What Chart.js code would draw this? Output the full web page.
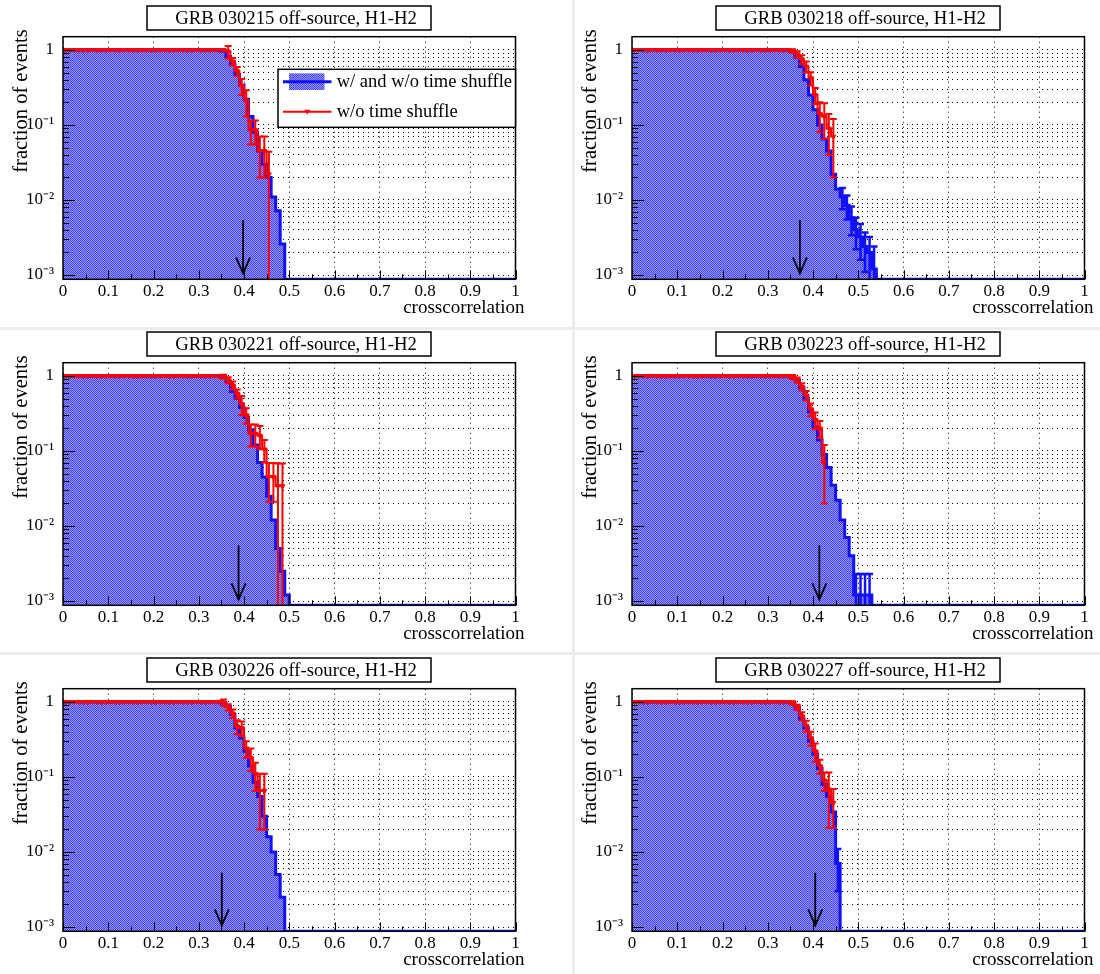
<!DOCTYPE html>
<html>
<head>
<meta charset="utf-8">
<title>GRB off-source crosscorrelation, H1-H2</title>
<script src="https://cdn.jsdelivr.net/npm/chart.js@4.4.1/dist/chart.umd.min.js"></script>
<style>
  html, body { margin: 0; padding: 0; background: #ffffff; overflow: hidden; }
  #sheet { position: relative; width: 1100px; height: 974px; background: #ffffff; }
  #sheet canvas { position: absolute; }
  .rule { position: absolute; background: #ececec; }
</style>
</head>
<body>
<div id="sheet">
  <div class="rule" style="left:0; top:327px; width:1100px; height:3px;"></div>
  <div class="rule" style="left:0; top:652px; width:1100px; height:3px;"></div>
  <div class="rule" style="left:572px; top:0; width:3px; height:974px;"></div>
</div>
<script>
// Histogram bins: 100 bins of width 0.01 on crosscorrelation [0, 1].
// Each array holds the cumulative fraction of events per bin, starting at bin [0, 0.01).
const BIN_WIDTH = 0.01;

const grbNames = ['030215', '030218', '030221', '030223', '030226', '030227'];

// Threshold markers (arrow position and vertical extent)
const arrowX   = [0.398, 0.371, 0.388, 0.414, 0.351, 0.405];
const arrowTop = [0.0054, 0.0054, 0.0055, 0.0055, 0.0053, 0.0053];
const arrowTip = [0.00105, 0.00105, 0.00105, 0.00105, 0.00105, 0.00105];

// ---- GRB 030215 ----
const allEvents030215 = [
  1, 1, 1, 1, 1, 1, 1, 1, 1, 1,
  1, 1, 1, 1, 1, 1, 1, 1, 1, 1,
  1, 1, 1, 1, 1, 1, 1, 1, 1, 1,
  1, 1, 1, 1, 1, 0.97, 0.82, 0.64, 0.47, 0.34,
  0.22, 0.13, 0.08, 0.045, 0.03, 0.02, 0.011, 0.0072, 0.0026, 0
];
const allEvents030215Err = [];
const noShuffle030215 = [
  1, 1, 1, 1, 1, 1, 1, 1, 1, 1,
  1, 1, 1, 1, 1, 1, 1, 1, 1, 1,
  1, 1, 1, 1, 1, 1, 1, 1, 1, 1,
  1, 1, 1, 1, 1, 1, 0.95, 0.7, 0.52, 0.33,
  0.21, 0.085, 0.085, 0.045, 0.045, 0.022
];
const noShuffle030215Err = [
  0, 0, 0, 0, 0, 0, 0, 0, 0, 0,
  0, 0, 0, 0, 0, 0, 0, 0, 0, 0,
  0, 0, 0, 0, 0, 0, 0, 0, 0, 0,
  0, 0, 0, 0, 0, 0, 0.18, 0.08, 0.07, 0.08,
  0.08, 0.03, 0.03, 0.025, 0.025, 0.022
];

// ---- GRB 030218 ----
const allEvents030218 = [
  1, 1, 1, 1, 1, 1, 1, 1, 1, 1,
  1, 1, 1, 1, 1, 1, 1, 1, 1, 1,
  1, 1, 1, 1, 1, 1, 1, 1, 1, 1,
  1, 1, 1, 1, 1, 0.95, 0.8, 0.6, 0.4, 0.25,
  0.16, 0.1, 0.065, 0.045, 0.022, 0.014, 0.011, 0.0085, 0.0058, 0.004,
  0.0032, 0.0024, 0.002, 0.0012, 0
];
const allEvents030218Err = [
  0, 0, 0, 0, 0, 0, 0, 0, 0, 0,
  0, 0, 0, 0, 0, 0, 0, 0, 0, 0,
  0, 0, 0, 0, 0, 0, 0, 0, 0, 0,
  0, 0, 0, 0, 0, 0, 0, 0, 0, 0,
  0, 0, 0, 0, 0, 0, 0.0035, 0.003, 0.0024, 0.0018,
  0.0016, 0.0013, 0.0012, 0.0012, 0
];
const noShuffle030218 = [
  1, 1, 1, 1, 1, 1, 1, 1, 1, 1,
  1, 1, 1, 1, 1, 1, 1, 1, 1, 1,
  1, 1, 1, 1, 1, 1, 1, 1, 1, 1,
  1, 1, 1, 1, 1, 0.97, 0.88, 0.75, 0.6, 0.42,
  0.25, 0.14, 0.13, 0.09, 0.07
];
const noShuffle030218Err = [
  0, 0, 0, 0, 0, 0, 0, 0, 0, 0,
  0, 0, 0, 0, 0, 0, 0, 0, 0, 0,
  0, 0, 0, 0, 0, 0, 0, 0, 0, 0,
  0, 0, 0, 0, 0, 0.05, 0.08, 0.1, 0.1, 0.085,
  0.06, 0.06, 0.065, 0.05, 0.05
];

// ---- GRB 030221 ----
const allEvents030221 = [
  1, 1, 1, 1, 1, 1, 1, 1, 1, 1,
  1, 1, 1, 1, 1, 1, 1, 1, 1, 1,
  1, 1, 1, 1, 1, 1, 1, 1, 1, 1,
  1, 1, 1, 1, 1, 0.96, 0.85, 0.62, 0.5, 0.38,
  0.28, 0.19, 0.12, 0.07, 0.045, 0.025, 0.012, 0.005, 0.0025, 0.0012,
  0
];
const allEvents030221Err = [];
const noShuffle030221 = [
  1, 1, 1, 1, 1, 1, 1, 1, 1, 1,
  1, 1, 1, 1, 1, 1, 1, 1, 1, 1,
  1, 1, 1, 1, 1, 1, 1, 1, 1, 1,
  1, 1, 1, 1, 1, 0.98, 0.88, 0.75, 0.58, 0.42,
  0.3, 0.17, 0.17, 0.16, 0.105, 0.045, 0.045, 0.034, 0.034
];
const noShuffle030221Err = [
  0, 0, 0, 0, 0, 0, 0, 0, 0, 0,
  0, 0, 0, 0, 0, 0, 0, 0, 0, 0,
  0, 0, 0, 0, 0, 0, 0, 0, 0, 0,
  0, 0, 0, 0, 0, 0.06, 0.08, 0.09, 0.08, 0.12,
  0.07, 0.055, 0.055, 0.055, 0.035, 0.024, 0.024, 0.034, 0.034
];

// ---- GRB 030223 ----
const allEvents030223 = [
  1, 1, 1, 1, 1, 1, 1, 1, 1, 1,
  1, 1, 1, 1, 1, 1, 1, 1, 1, 1,
  1, 1, 1, 1, 1, 1, 1, 1, 1, 1,
  1, 1, 1, 1, 1, 0.97, 0.88, 0.7, 0.5, 0.33,
  0.21, 0.14, 0.09, 0.06, 0.035, 0.022, 0.012, 0.007, 0.004, 0.0012,
  0.0012, 0.0012, 0.0012, 0
];
const allEvents030223Err = [
  0, 0, 0, 0, 0, 0, 0, 0, 0, 0,
  0, 0, 0, 0, 0, 0, 0, 0, 0, 0,
  0, 0, 0, 0, 0, 0, 0, 0, 0, 0,
  0, 0, 0, 0, 0, 0, 0, 0, 0, 0,
  0, 0, 0, 0, 0, 0, 0, 0, 0, 0.0011,
  0.0011, 0.0011, 0.0011, 0
];
const noShuffle030223 = [
  1, 1, 1, 1, 1, 1, 1, 1, 1, 1,
  1, 1, 1, 1, 1, 1, 1, 1, 1, 1,
  1, 1, 1, 1, 1, 1, 1, 1, 1, 1,
  1, 1, 1, 1, 1, 0.97, 0.88, 0.72, 0.55, 0.36,
  0.26, 0.2, 0.07
];
const noShuffle030223Err = [
  0, 0, 0, 0, 0, 0, 0, 0, 0, 0,
  0, 0, 0, 0, 0, 0, 0, 0, 0, 0,
  0, 0, 0, 0, 0, 0, 0, 0, 0, 0,
  0, 0, 0, 0, 0, 0.06, 0.07, 0.08, 0.08, 0.07,
  0.065, 0.05, 0.05
];

// ---- GRB 030226 ----
const allEvents030226 = [
  1, 1, 1, 1, 1, 1, 1, 1, 1, 1,
  1, 1, 1, 1, 1, 1, 1, 1, 1, 1,
  1, 1, 1, 1, 1, 1, 1, 1, 1, 1,
  1, 1, 1, 1, 1, 0.97, 0.87, 0.68, 0.45, 0.33,
  0.22, 0.14, 0.085, 0.055, 0.03, 0.016, 0.01, 0.005, 0.0025, 0
];
const allEvents030226Err = [];
const noShuffle030226 = [
  1, 1, 1, 1, 1, 1, 1, 1, 1, 1,
  1, 1, 1, 1, 1, 1, 1, 1, 1, 1,
  1, 1, 1, 1, 1, 1, 1, 1, 1, 1,
  1, 1, 1, 1, 1, 0.98, 0.85, 0.7, 0.47, 0.45,
  0.24, 0.18, 0.11, 0.065, 0.065
];
const noShuffle030226Err = [
  0, 0, 0, 0, 0, 0, 0, 0, 0, 0,
  0, 0, 0, 0, 0, 0, 0, 0, 0, 0,
  0, 0, 0, 0, 0, 0, 0, 0, 0, 0,
  0, 0, 0, 0, 0, 0.1, 0.08, 0.09, 0.1, 0.1,
  0.06, 0.06, 0.045, 0.045, 0.045
];

// ---- GRB 030227 ----
const allEvents030227 = [
  1, 1, 1, 1, 1, 1, 1, 1, 1, 1,
  1, 1, 1, 1, 1, 1, 1, 1, 1, 1,
  1, 1, 1, 1, 1, 1, 1, 1, 1, 1,
  1, 1, 1, 1, 1, 0.97, 0.85, 0.6, 0.45, 0.3,
  0.2, 0.13, 0.08, 0.055, 0.034, 0.007, 0
];
const allEvents030227Err = [
  0, 0, 0, 0, 0, 0, 0, 0, 0, 0,
  0, 0, 0, 0, 0, 0, 0, 0, 0, 0,
  0, 0, 0, 0, 0, 0, 0, 0, 0, 0,
  0, 0, 0, 0, 0, 0, 0, 0, 0, 0,
  0, 0, 0, 0, 0, 0.004, 0
];
const noShuffle030227 = [
  1, 1, 1, 1, 1, 1, 1, 1, 1, 1,
  1, 1, 1, 1, 1, 1, 1, 1, 1, 1,
  1, 1, 1, 1, 1, 1, 1, 1, 1, 1,
  1, 1, 1, 1, 1, 0.97, 0.85, 0.65, 0.48, 0.33,
  0.22, 0.14, 0.09, 0.068, 0.045
];
const noShuffle030227Err = [
  0, 0, 0, 0, 0, 0, 0, 0, 0, 0,
  0, 0, 0, 0, 0, 0, 0, 0, 0, 0,
  0, 0, 0, 0, 0, 0, 0, 0, 0, 0,
  0, 0, 0, 0, 0, 0.05, 0.07, 0.08, 0.08, 0.07,
  0.06, 0.03, 0.025, 0.047, 0.024
];

// Axis ticks and labels
const xTickValues = [0, 0.1, 0.2, 0.3, 0.4, 0.5, 0.6, 0.7, 0.8, 0.9, 1];
const xTickLabels = ['0', '0.1', '0.2', '0.3', '0.4', '0.5', '0.6', '0.7', '0.8', '0.9', '1'];
const xHalfTicks  = [0.05, 0.15, 0.25, 0.35, 0.45, 0.55, 0.65, 0.75, 0.85, 0.95];
const yGridValues = [
  0.001, 0.002, 0.003, 0.004, 0.005, 0.006, 0.007, 0.008, 0.009,
  0.01, 0.02, 0.03, 0.04, 0.05, 0.06, 0.07, 0.08, 0.09,
  0.1, 0.2, 0.3, 0.4, 0.5, 0.6, 0.7, 0.8, 0.9, 1
];
const yLabelValues = [1, 0.1, 0.01, 0.001];
const yLabelTexts  = ['1', '10\u207B\u00B9', '10\u207B\u00B2', '10\u207B\u00B3'];

const Y_MIN = 0.000877;
const Y_MAX = 1.5;

const SERIF = '"Liberation Serif", "Times New Roman", Times, serif';
const BLUE = '#1010ff';
const RED = '#ff0000';

// Panel geometry inside each 550 x 324 canvas
const CANVAS_W = 550, CANVAS_H = 324;
const rowTops = [0, 326, 652];
const colLefts = [0, 550];
const plotLeft = [63, 82];
const PLOT_W = 452.5;
const PLOT_TOP = 36.7;
const PLOT_BOTTOM = 279.3;
const Y_AXIS_W = 60;

const panels = [
  { all: allEvents030215, allErr: allEvents030215Err, nos: noShuffle030215, nosErr: noShuffle030215Err, legend: true },
  { all: allEvents030218, allErr: allEvents030218Err, nos: noShuffle030218, nosErr: noShuffle030218Err },
  { all: allEvents030221, allErr: allEvents030221Err, nos: noShuffle030221, nosErr: noShuffle030221Err },
  { all: allEvents030223, allErr: allEvents030223Err, nos: noShuffle030223, nosErr: noShuffle030223Err },
  { all: allEvents030226, allErr: allEvents030226Err, nos: noShuffle030226, nosErr: noShuffle030226Err },
  { all: allEvents030227, allErr: allEvents030227Err, nos: noShuffle030227, nosErr: noShuffle030227Err }
];

// Fine checkered fill used for the shaded histogram
function hatchPattern(ctx) {
  const tile = document.createElement('canvas');
  tile.width = 2; tile.height = 2;
  const t = tile.getContext('2d');
  t.fillStyle = 'rgb(146,146,246)';
  t.fillRect(0, 0, 2, 2);
  t.fillStyle = 'rgb(72,72,236)';
  t.fillRect(0, 0, 1, 1);
  t.fillRect(1, 1, 1, 1);
  return ctx.createPattern(tile, 'repeat');
}

function drawErrorBars(chart, values, errs, color, width) {
  if (!errs || !errs.length) return;
  const { ctx, chartArea: a, scales: { x, y } } = chart;
  const CAP = 3.5;
  ctx.save();
  ctx.beginPath();
  ctx.rect(a.left, a.top - 12, a.right - a.left, a.bottom - a.top + 14);
  ctx.clip();
  ctx.strokeStyle = color;
  ctx.lineWidth = width;
  values.forEach((v, i) => {
    const e = errs[i];
    if (!e || !v) return;
    const xc = x.getPixelForValue((i + 0.5) * BIN_WIDTH);
    const lo = v - e;
    const yHi = y.getPixelForValue(v + e);
    const yLo = lo > y.min ? y.getPixelForValue(lo) : a.bottom;
    ctx.beginPath();
    ctx.moveTo(xc, yHi); ctx.lineTo(xc, yLo);
    ctx.moveTo(xc - CAP, yHi); ctx.lineTo(xc + CAP, yHi);
    if (lo > y.min) { ctx.moveTo(xc - CAP, yLo); ctx.lineTo(xc + CAP, yLo); }
    ctx.stroke();
  });
  ctx.restore();
}

function decorations(idx, fillPattern) {
  const panel = panels[idx];
  return {
    id: 'rootDecor' + idx,
    afterDatasetsDraw(chart) {
      drawErrorBars(chart, panel.all, panel.allErr, BLUE, 2.5);
      drawErrorBars(chart, panel.nos, panel.nosErr, RED, 2);
    },
    afterDraw(chart) {
      const { ctx, chartArea: a, scales: { x, y } } = chart;
      ctx.save();

      // tick marks drawn inward from the frame
      ctx.strokeStyle = '#000';
      ctx.lineWidth = 1;
      ctx.beginPath();
      xTickValues.forEach(v => {
        const px = Math.round(x.getPixelForValue(v)) + 0.5;
        ctx.moveTo(px, a.bottom); ctx.lineTo(px, a.bottom - 9);
      });
      xHalfTicks.forEach(v => {
        const px = Math.round(x.getPixelForValue(v)) + 0.5;
        ctx.moveTo(px, a.bottom); ctx.lineTo(px, a.bottom - 5);
      });
      yGridValues.forEach(v => {
        const py = Math.round(y.getPixelForValue(v)) + 0.5;
        const decade = yLabelValues.some(d => Math.abs(d - v) < d * 1e-6);
        ctx.moveTo(a.left, py); ctx.lineTo(a.left + (decade ? 12 : 6), py);
      });
      ctx.stroke();

      // frame
      ctx.lineWidth = 1.5;
      ctx.strokeRect(a.left, a.top, a.right - a.left, a.bottom - a.top);

      // threshold arrow
      const ax = x.getPixelForValue(arrowX[idx]);
      const yTop = y.getPixelForValue(arrowTop[idx]);
      const yTip = y.getPixelForValue(arrowTip[idx]);
      ctx.lineWidth = 1.8;
      ctx.beginPath();
      ctx.moveTo(ax, yTop); ctx.lineTo(ax, yTip);
      ctx.moveTo(ax - 7, yTip - 16); ctx.lineTo(ax, yTip); ctx.lineTo(ax + 7, yTip - 16);
      ctx.stroke();

      // title box
      const bx = a.left + 84, bw = 284, by = 6, bh = 24;
      ctx.fillStyle = '#fff';
      ctx.fillRect(bx, by, bw, bh);
      ctx.lineWidth = 1.5;
      ctx.strokeRect(bx, by, bw, bh);
      ctx.fillStyle = '#000';
      ctx.font = '18.7px ' + SERIF;
      ctx.textAlign = 'center';
      ctx.textBaseline = 'middle';
      ctx.fillText('GRB ' + grbNames[idx] + ' off-source, H1-H2', bx + bw / 2 + 7, by + bh / 2 + 1);

      // axis titles
      ctx.font = '19px ' + SERIF;
      ctx.textAlign = 'right';
      ctx.fillText('crosscorrelation', a.right + 9, a.bottom + 29);
      ctx.save();
      ctx.translate(a.left - 41, a.top - 7.4);
      ctx.rotate(-Math.PI / 2);
      ctx.font = '20.5px ' + SERIF;
      ctx.textAlign = 'right';
      ctx.fillText('fraction of events', 0, 0);
      ctx.restore();

      // legend
      if (panel.legend) {
        const ds = chart.data.datasets;
        const lx = a.left + 215, ly = a.top + 32.6, lw = a.right - lx, lh = 58;
        ctx.fillStyle = '#fff';
        ctx.fillRect(lx, ly, lw, lh);
        ctx.lineWidth = 1.5;
        ctx.strokeStyle = '#000';
        ctx.strokeRect(lx, ly, lw, lh);
        // filled entry
        ctx.fillStyle = fillPattern;
        ctx.fillRect(a.left + 226, a.top + 36.6, 35.5, 16.7);
        ctx.strokeStyle = BLUE;
        ctx.lineWidth = 3;
        ctx.beginPath();
        ctx.moveTo(a.left + 220, a.top + 45); ctx.lineTo(a.left + 268.5, a.top + 45);
        ctx.stroke();
        // line + marker entry
        ctx.strokeStyle = RED;
        ctx.lineWidth = 2;
        ctx.beginPath();
        ctx.moveTo(a.left + 220, a.top + 75); ctx.lineTo(a.left + 268.5, a.top + 75);
        ctx.stroke();
        const mx = a.left + 244.25, my = a.top + 75;
        ctx.fillStyle = RED;
        ctx.beginPath();
        ctx.moveTo(mx - 3, my - 2); ctx.lineTo(mx + 3, my - 2); ctx.lineTo(mx, my + 3);
        ctx.closePath();
        ctx.fill();
        ctx.fillStyle = '#000';
        ctx.font = '18.5px ' + SERIF;
        ctx.textAlign = 'left';
        ctx.textBaseline = 'middle';
        ctx.fillText(ds[1].label, a.left + 273.7, a.top + 45);
        ctx.fillText(ds[0].label, a.left + 273.7, a.top + 75);
      }
      ctx.restore();
    }
  };
}

const sheet = document.getElementById('sheet');

panels.forEach((panel, idx) => {
  const row = Math.floor(idx / 2), col = idx % 2;
  const canvas = document.createElement('canvas');
  canvas.width = CANVAS_W;
  canvas.height = CANVAS_H;
  canvas.style.left = colLefts[col] + 'px';
  canvas.style.top = rowTops[row] + 'px';
  sheet.appendChild(canvas);
  const ctx = canvas.getContext('2d');
  const fill = hatchPattern(ctx);

  // empty bins sit on the axis floor, as in a log-scale histogram
  const allPoints = panel.all.map((v, i) => ({ x: i * BIN_WIDTH, y: v > 0 ? v : Y_MIN }));
  allPoints.push({ x: 1, y: Y_MIN });
  const nosPoints = panel.nos.map((v, i) => ({ x: (i + 0.5) * BIN_WIDTH, y: v }));

  const left = plotLeft[col];
  new Chart(ctx, {
    type: 'line',
    data: {
      datasets: [
        {
          label: 'w/o time shuffle',
          data: nosPoints,
          order: 0,
          borderColor: RED,
          borderWidth: 2,
          stepped: 'middle',
          fill: false,
          pointStyle: 'triangle',
          pointRotation: 180,
          pointRadius: 2.8,
          pointBackgroundColor: RED,
          pointBorderColor: RED,
          pointBorderWidth: 1
        },
        {
          label: 'w/ and w/o time shuffle',
          data: allPoints,
          order: 1,
          borderColor: BLUE,
          borderWidth: 3,
          stepped: true,
          fill: 'start',
          backgroundColor: fill,
          pointRadius: 0
        }
      ]
    },
    options: {
      responsive: false,
      animation: false,
      devicePixelRatio: 1,
      events: [],
      layout: {
        padding: {
          left: left - Y_AXIS_W,
          right: CANVAS_W - left - PLOT_W,
          top: PLOT_TOP,
          bottom: 0
        }
      },
      plugins: {
        legend: { display: false },
        tooltip: { enabled: false },
        title: { display: false }
      },
      scales: {
        x: {
          type: 'linear',
          min: 0,
          max: 1,
          z: 1,
          afterBuildTicks: s => { s.ticks = xTickValues.map(v => ({ value: v })); },
          afterFit: s => { s.height = CANVAS_H - PLOT_BOTTOM; s.paddingLeft = 0; s.paddingRight = 0; },
          ticks: {
            autoSkip: false,
            maxRotation: 0,
            padding: 2,
            color: '#000',
            font: { family: SERIF, size: 17 },
            callback: (v, i) => xTickLabels[i]
          },
          grid: { color: '#000000', lineWidth: 1, drawTicks: false },
          border: { display: false, dash: [1, 4] }
        },
        y: {
          type: 'logarithmic',
          min: Y_MIN,
          max: Y_MAX,
          z: 1,
          afterBuildTicks: s => { s.ticks = yGridValues.map(v => ({ value: v })); },
          afterFit: s => { s.width = Y_AXIS_W; s.paddingTop = 0; s.paddingBottom = 0; },
          ticks: {
            autoSkip: false,
            padding: 9,
            color: '#000',
            font: { family: SERIF, size: 17 },
            callback: v => {
              const k = yLabelValues.findIndex(d => Math.abs(d - v) < d * 1e-6);
              return k >= 0 ? yLabelTexts[k] : '';
            }
          },
          grid: { color: '#000000', lineWidth: 1, drawTicks: false },
          border: { display: false, dash: [1, 4] }
        }
      }
    },
    plugins: [decorations(idx, fill)]
  });
});
</script>
</body>
</html>
